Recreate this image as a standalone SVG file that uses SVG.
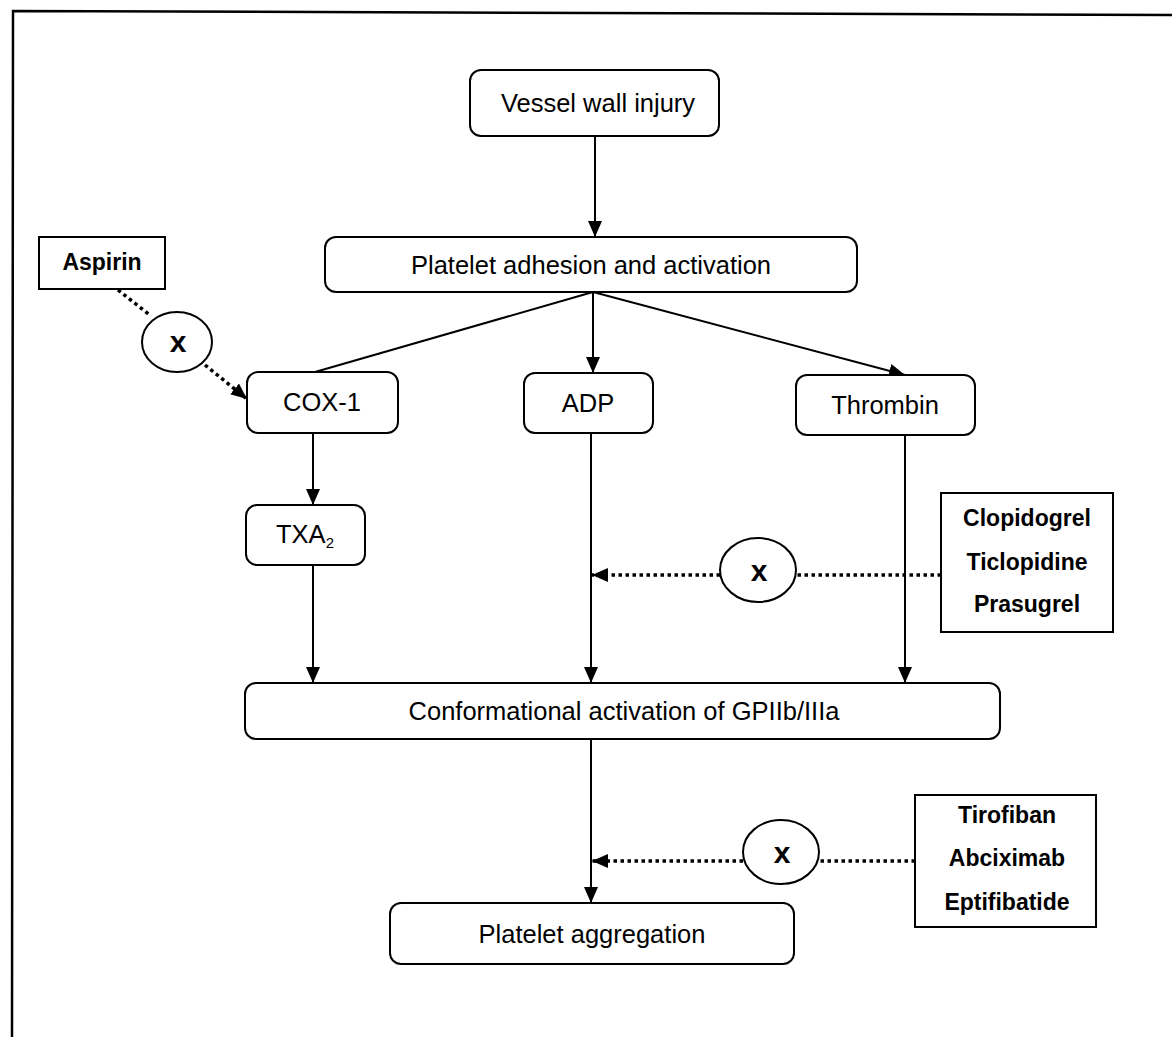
<svg xmlns="http://www.w3.org/2000/svg" width="1172" height="1037" viewBox="0 0 1172 1037">
<style>
.node{fill:#fff;stroke:#000;stroke-width:2}
.t{font-family:"Liberation Sans",Arial,sans-serif;font-size:25.5px;fill:#000;text-anchor:middle}
.b{font-weight:bold;font-size:23px}
.x{font-weight:bold;font-size:30px}
.c{fill:none;stroke:#000;stroke-width:2}
.d{fill:none;stroke:#000;stroke-width:3.5;stroke-dasharray:3.5 3.5}
</style>
<defs>
<marker id="ah" viewBox="0 0 16 14" refX="16" refY="7" markerWidth="16" markerHeight="14" markerUnits="userSpaceOnUse" orient="auto">
<path d="M0,0 L16,7 L0,14 Z" fill="#000"/>
</marker>
</defs>
<rect width="1172" height="1037" fill="#fff"/>
<path d="M12,1037 L13,11 L1172,15" fill="none" stroke="#000" stroke-width="2.5"/>

<g id="connectors">
<line class="c" x1="595" y1="136" x2="595" y2="237" marker-end="url(#ah)"/>
<line class="c" x1="593" y1="292" x2="315" y2="372"/>
<line class="c" x1="593" y1="292" x2="593" y2="373" marker-end="url(#ah)"/>
<line class="c" x1="593" y1="292" x2="905" y2="375" marker-end="url(#ah)"/>
<line class="c" x1="313" y1="433" x2="313" y2="505" marker-end="url(#ah)"/>
<line class="c" x1="313" y1="565" x2="313" y2="683" marker-end="url(#ah)"/>
<line class="c" x1="591" y1="433" x2="591" y2="683" marker-end="url(#ah)"/>
<line class="c" x1="905" y1="435" x2="905" y2="683" marker-end="url(#ah)"/>
<line class="c" x1="591" y1="739" x2="591" y2="903" marker-end="url(#ah)"/>
<path class="d" d="M118,290 L151,316"/>
<path class="d" d="M205,365 L247,399" marker-end="url(#ah)"/>
<path class="d" d="M941,575 L797,575"/>
<path class="d" d="M720,575 L592,575" marker-end="url(#ah)"/>
<path class="d" d="M915,861 L820,861"/>
<path class="d" d="M743,861 L592,861" marker-end="url(#ah)"/>
</g>

<g id="vessel"><rect class="node" x="470" y="70" width="249" height="66" rx="11"/><text class="t" x="598" y="112">Vessel wall injury</text></g>
<g id="adhesion"><rect class="node" x="325" y="237" width="532" height="55" rx="11"/><text class="t" x="591" y="274">Platelet adhesion and activation</text></g>
<g id="aspirin"><rect class="node" x="39" y="237" width="126" height="52"/><text class="t b" x="102" y="270">Aspirin</text></g>
<g id="x1"><ellipse class="node" cx="177" cy="342" rx="35" ry="30"/><text class="t x" x="178" y="352">x</text></g>
<g id="cox1"><rect class="node" x="247" y="372" width="151" height="61" rx="11"/><text class="t" x="322" y="411">COX-1</text></g>
<g id="adp"><rect class="node" x="524" y="373" width="129" height="60" rx="11"/><text class="t" x="588" y="412">ADP</text></g>
<g id="thrombin"><rect class="node" x="796" y="375" width="179" height="60" rx="11"/><text class="t" x="885" y="414">Thrombin</text></g>
<g id="txa2"><rect class="node" x="246" y="505" width="119" height="60" rx="11"/><text class="t" x="305" y="543">TXA<tspan font-size="15" dy="5">2</tspan></text></g>
<g id="clopi"><rect class="node" x="941" y="493" width="172" height="139"/><text class="t b" x="1027" y="526">Clopidogrel</text><text class="t b" x="1027" y="570">Ticlopidine</text><text class="t b" x="1027" y="612">Prasugrel</text></g>
<g id="x2"><ellipse class="node" cx="758" cy="570" rx="38" ry="32"/><text class="t x" x="759" y="581">x</text></g>
<g id="gp"><rect class="node" x="245" y="683" width="755" height="56" rx="11"/><text class="t" x="624" y="720">Conformational activation of GPIIb/IIIa</text></g>
<g id="tiro"><rect class="node" x="915" y="795" width="181" height="132"/><text class="t b" x="1007" y="823">Tirofiban</text><text class="t b" x="1007" y="866">Abciximab</text><text class="t b" x="1007" y="910">Eptifibatide</text></g>
<g id="x3"><ellipse class="node" cx="781" cy="852" rx="38" ry="32"/><text class="t x" x="782" y="863">x</text></g>
<g id="aggr"><rect class="node" x="390" y="903" width="404" height="61" rx="11"/><text class="t" x="592" y="943">Platelet aggregation</text></g>
</svg>
